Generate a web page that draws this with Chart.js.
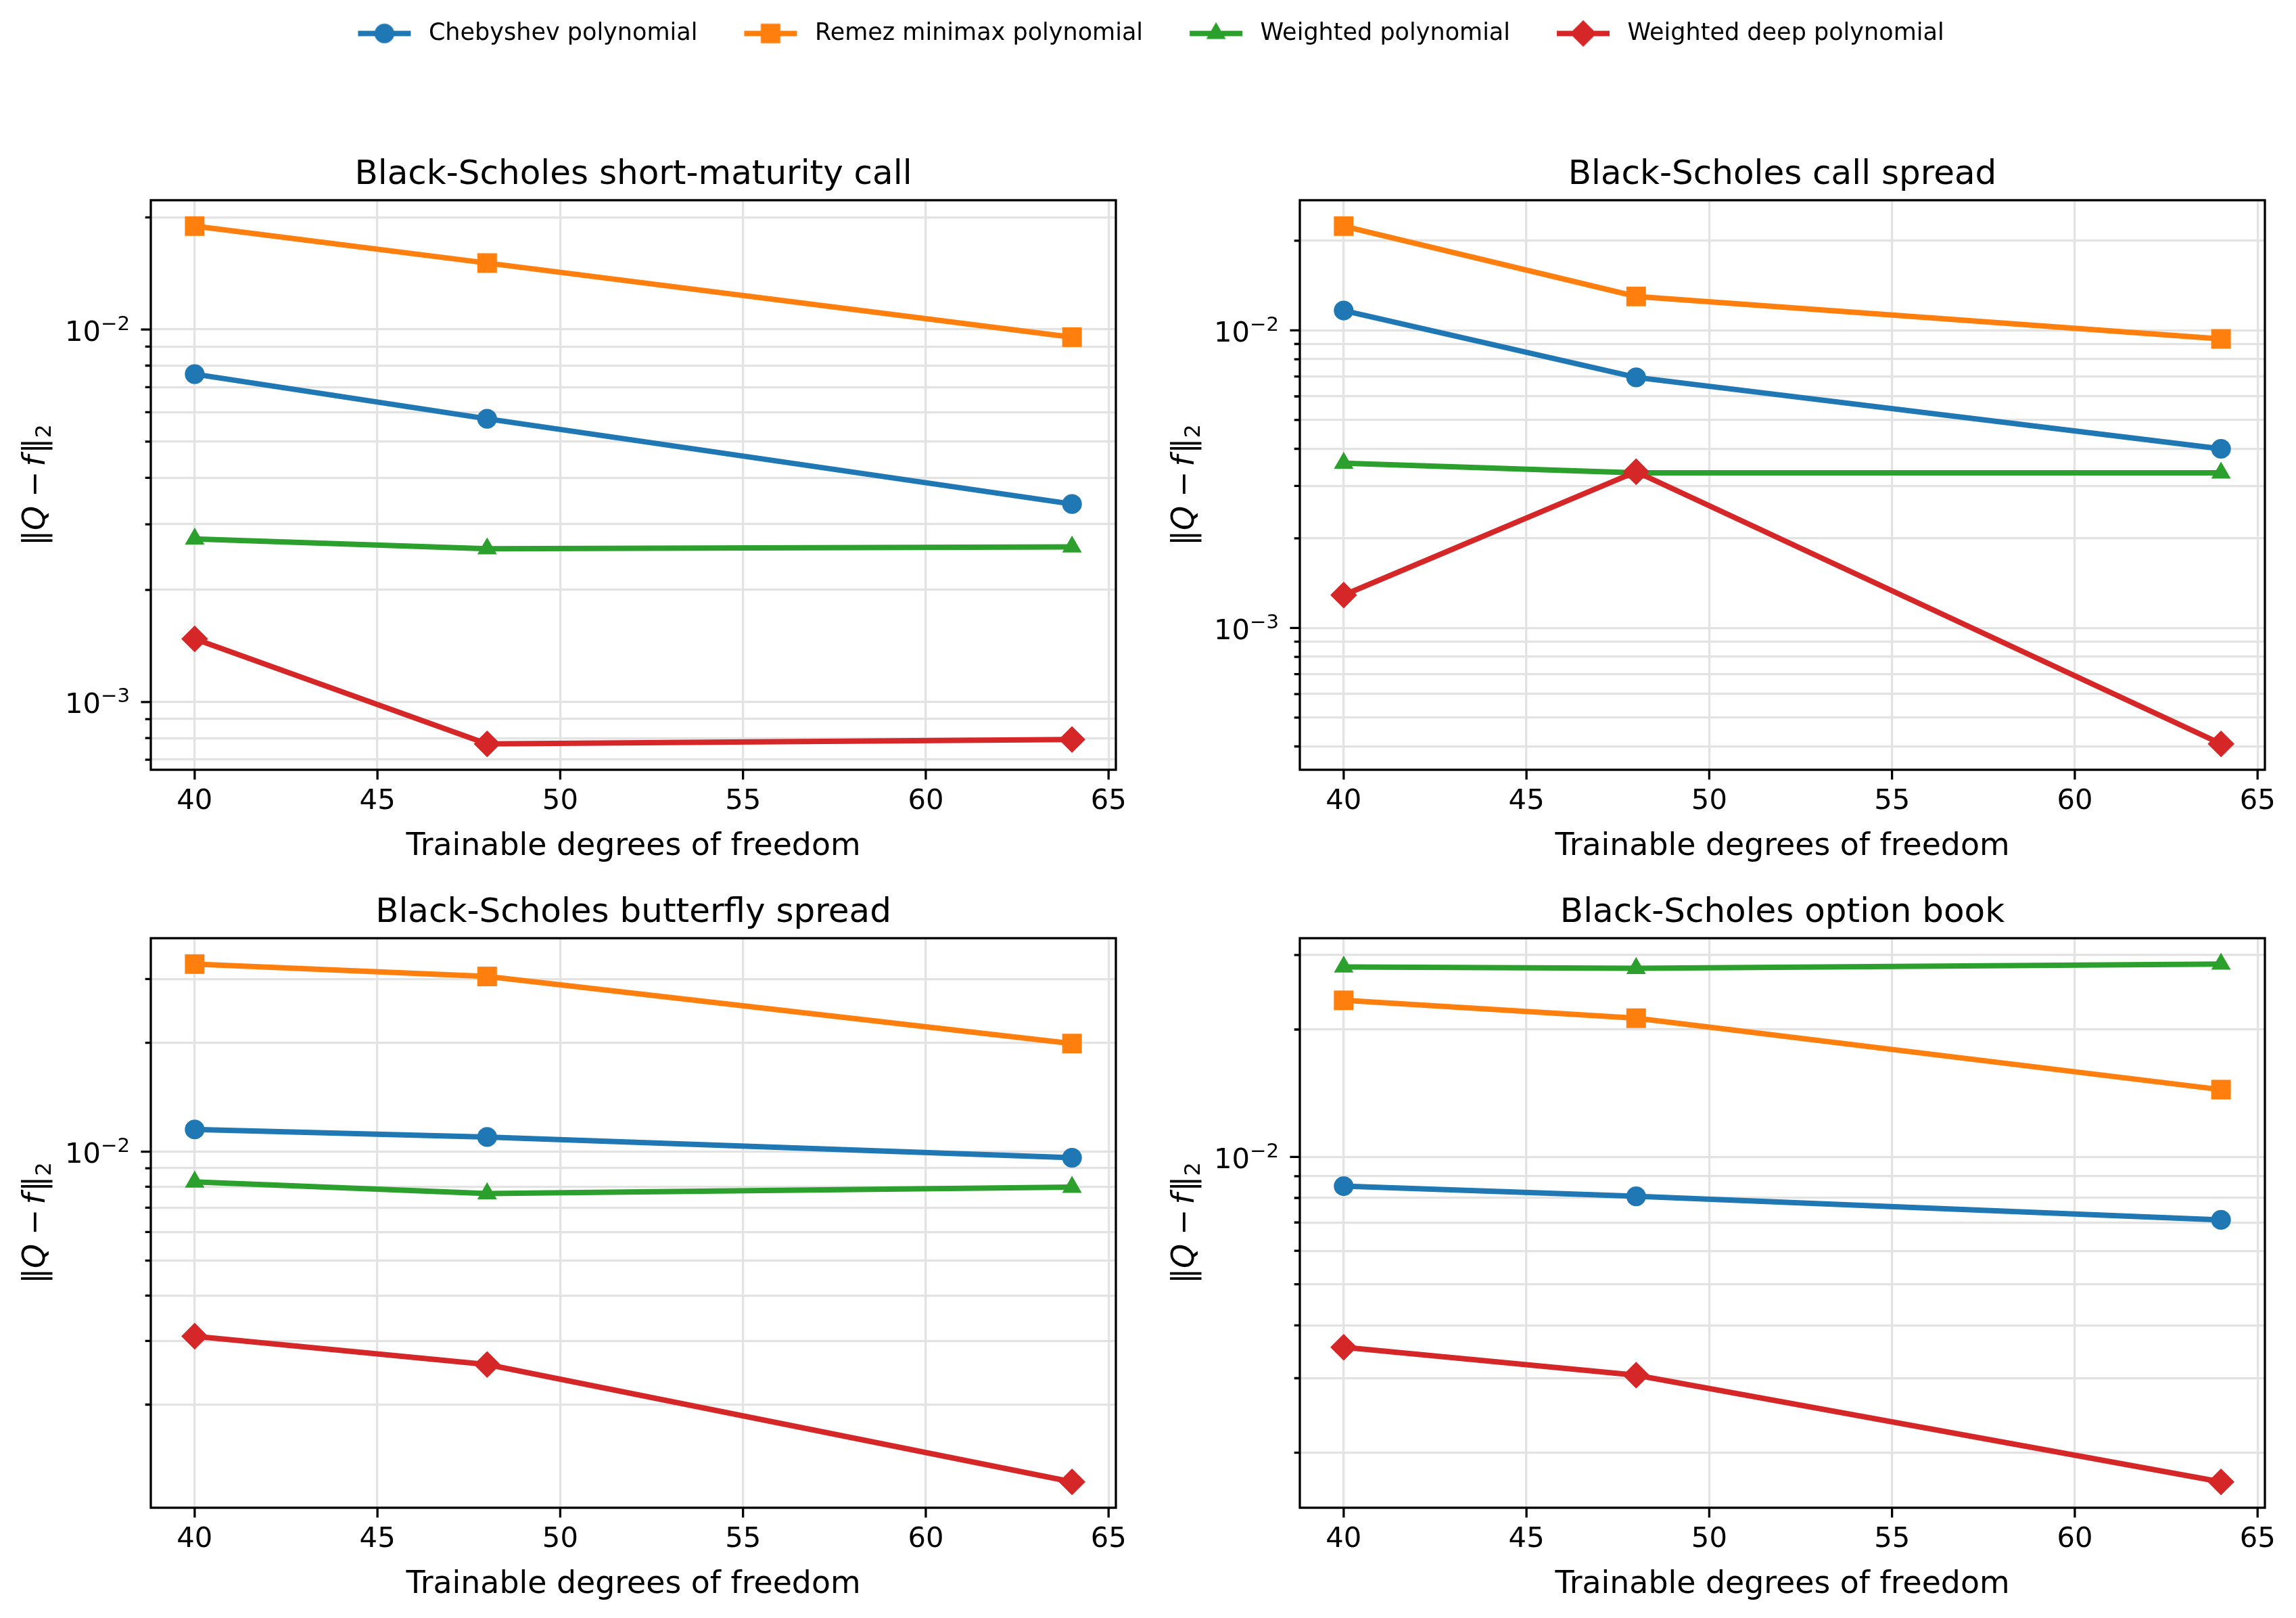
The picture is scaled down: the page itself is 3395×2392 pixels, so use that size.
<!DOCTYPE html>
<html>
<head>
<meta charset="utf-8">
<script src="https://cdn.jsdelivr.net/npm/chart.js@4.4.1/dist/chart.umd.min.js"></script>
<style>
  body { margin: 0; background: #fff; width: 3395px; height: 2392px; position: relative; overflow: hidden; }
  canvas { position: absolute; }
</style>
</head>
<body>
<canvas id="legend" width="3395" height="200" style="left:0;top:-28px"></canvas>
<canvas id="p1" width="1695" height="1202" style="left:0;top:96px"></canvas>
<canvas id="p2" width="1695" height="1202" style="left:1699px;top:96px"></canvas>
<canvas id="p3" width="1695" height="1202" style="left:0;top:1187px"></canvas>
<canvas id="p4" width="1695" height="1202" style="left:1699px;top:1187px"></canvas>
<script>
// data
const dof = [40, 48, 64];
const xTicks = [40, 45, 50, 55, 60, 65];
const seriesNames = ['Chebyshev polynomial', 'Remez minimax polynomial', 'Weighted polynomial', 'Weighted deep polynomial'];
const panelTitles = ['Black-Scholes short-maturity call', 'Black-Scholes call spread', 'Black-Scholes butterfly spread', 'Black-Scholes option book'];

const cheb1 = [0.00759, 0.00576, 0.00340];
const remez1 = [0.01895, 0.01508, 0.00954];
const wpoly1 = [0.00274, 0.00258, 0.00261];
const wdeep1 = [0.001477, 0.000772, 0.000793];

const cheb2 = [0.01166, 0.00695, 0.00400];
const remez2 = [0.0224, 0.0130, 0.00936];
const wpoly2 = [0.00358, 0.00332, 0.00332];
const wdeep2 = [0.00129, 0.00335, 0.000408];

const cheb3 = [0.01152, 0.01098, 0.00962];
const remez3 = [0.0330, 0.0305, 0.0199];
const wpoly3 = [0.00825, 0.00766, 0.00798];
const wdeep3 = [0.00309, 0.00258, 0.001223];

const cheb4 = [0.00853, 0.00807, 0.00710];
const remez4 = [0.02344, 0.02127, 0.01442];
const wpoly4 = [0.02811, 0.02790, 0.02855];
const wdeep4 = [0.00355, 0.00305, 0.001707];

const colors = ['#1f77b4', '#ff7f0e', '#2ca02c', '#d62728'];
const markers = ['circle', 'rect', 'triangle', 'rectRot'];
const markerRadius = [14.6, 20.5, 16.7, 19.8];
const FONT = '"DejaVu Sans"';

Chart.defaults.font.family = FONT;
Chart.defaults.color = '#000';

function isDecade(v) {
  const l = Math.log10(v);
  return Math.abs(l - Math.round(l)) < 1e-9;
}

// matplotlib-like autoscale: 5% margin (log space for y)
function logRange(vals) {
  const lo = Math.log10(Math.min(...vals)), hi = Math.log10(Math.max(...vals));
  const m = (hi - lo) * 0.05;
  return [Math.pow(10, lo - m), Math.pow(10, hi + m)];
}
function linRange(vals) {
  const lo = Math.min(...vals), hi = Math.max(...vals);
  const m = (hi - lo) * 0.05;
  return [lo - m, hi + m];
}
function logTicks(min, max) {
  const out = [];
  for (let e = Math.floor(Math.log10(min)); e <= Math.ceil(Math.log10(max)); e++) {
    for (let k = 1; k <= 9; k++) {
      const v = Number((k * Math.pow(10, e)).toPrecision(6));
      if (v >= min && v <= max) out.push(v);
    }
  }
  return out;
}

// ||Q - f||_2 with italic Q and f, rotated
function drawYLabel(ctx, x, y) {
  const size = 45.8;
  const normal = size + 'px ' + FONT, italic = 'italic ' + size + 'px ' + FONT;
  const parts = [
    {t: '\u2016', f: normal, gap: 0},
    {t: 'Q', f: italic, gap: 13},
    {t: '\u2212', f: normal, gap: 7},
    {t: 'f', f: italic, gap: 3},
    {t: '\u2016', f: normal, gap: 0},
    {t: '2', f: (size * 0.7) + 'px ' + FONT, gap: 0, dy: size * 0.2}
  ];
  let total = 0;
  parts.forEach(p => { ctx.font = p.f; p.w = ctx.measureText(p.t).width; total += p.w + p.gap; });
  ctx.save();
  ctx.translate(x, y);
  ctx.rotate(-Math.PI / 2);
  ctx.fillStyle = '#000';
  ctx.textBaseline = 'alphabetic';
  ctx.textAlign = 'left';
  let cx = -total / 2;
  parts.forEach(p => {
    ctx.font = p.f;
    ctx.fillText(p.t, cx, p.dy || 0);
    cx += p.w + p.gap;
  });
  ctx.restore();
}

// 10^n tick label, mathtext style
function drawPow10(ctx, right, py, exp) {
  const big = 41.7, small = big * 0.7;
  ctx.save();
  ctx.fillStyle = '#000';
  ctx.textAlign = 'right';
  ctx.textBaseline = 'alphabetic';
  ctx.font = small + 'px ' + FONT;
  const s = (exp < 0 ? '\u2212' : '') + Math.abs(exp);
  const sw = ctx.measureText(s).width;
  ctx.fillText(s, right, py + 0.6);
  ctx.font = big + 'px ' + FONT;
  ctx.fillText('10', right - sw, py + 16.6);
  ctx.restore();
}

const frame = {
  id: 'frame',
  afterDatasetsDraw(chart) {
    const {ctx, chartArea: a, scales} = chart;
    ctx.save();
    ctx.strokeStyle = '#000';
    ctx.lineWidth = 3.3;
    ctx.strokeRect(a.left, a.top, a.right - a.left, a.bottom - a.top);
    ctx.beginPath();
    scales.x.ticks.forEach(t => {
      const px = scales.x.getPixelForValue(t.value);
      ctx.moveTo(px, a.bottom);
      ctx.lineTo(px, a.bottom + 14.6);
    });
    scales.y.ticks.forEach(t => {
      const py = scales.y.getPixelForValue(t.value);
      ctx.moveTo(a.left, py);
      ctx.lineTo(a.left - (isDecade(t.value) ? 14.6 : 8.3), py);
    });
    ctx.stroke();
    ctx.restore();
    scales.y.ticks.forEach(t => {
      if (isDecade(t.value)) drawPow10(ctx, a.left - 31, scales.y.getPixelForValue(t.value), Math.round(Math.log10(t.value)));
    });
    drawYLabel(ctx, a.left - 157, (a.top + a.bottom) / 2);
  }
};

function makePanel(id, title, series) {
  const [ymin, ymax] = logRange(series.flat());
  const [xmin, xmax] = linRange(dof);
  const datasets = series.map((vals, i) => ({
    label: seriesNames[i],
    data: dof.map((x, j) => ({x: x, y: vals[j]})),
    borderColor: colors[i],
    backgroundColor: colors[i],
    pointBackgroundColor: colors[i],
    pointBorderWidth: 0,
    pointStyle: markers[i],
    pointRadius: markerRadius[i],
    borderWidth: 8,
    tension: 0,
    fill: false,
    order: 3 - i
  }));
  new Chart(document.getElementById(id), {
    type: 'line',
    data: {datasets},
    options: {
      responsive: false,
      animation: false,
      devicePixelRatio: 1,
      layout: {padding: {left: 0, right: 45, top: 0, bottom: 0}},
      plugins: {
        legend: {display: false},
        tooltip: {enabled: false},
        title: {display: true, fullSize: false, text: title, font: {size: 50, weight: 'normal'}, padding: {top: 133, bottom: 7}}
      },
      scales: {
        x: {
          type: 'linear', min: xmin, max: xmax, bounds: 'data',
          afterBuildTicks: s => { s.ticks = xTicks.map(v => ({value: v})); s.min = xmin; s.max = xmax; },
          afterFit: s => { s.height = 160; },
          grid: {color: '#e3e3e3', lineWidth: 3.3, drawTicks: false},
          border: {display: false},
          ticks: {font: {size: 41.7}, padding: 22, maxRotation: 0, autoSkip: false, callback: v => String(v)},
          title: {display: true, text: 'Trainable degrees of freedom', font: {size: 45.8}, padding: {top: 0, bottom: 18}}
        },
        y: {
          type: 'logarithmic', min: ymin, max: ymax, bounds: 'data',
          // keep matplotlib's limits; chart.js would snap min to a tick otherwise
          afterBuildTicks: s => { s.ticks = logTicks(ymin, ymax).map(v => ({value: v})); s.min = ymin; s.max = ymax; },
          afterFit: s => { s.width = 223; },
          grid: {color: '#e3e3e3', lineWidth: 3.3, drawTicks: false},
          border: {display: false},
          ticks: {font: {size: 41.7}, padding: 31, autoSkip: false, callback: () => ''}
        }
      }
    },
    plugins: [frame]
  });
}

makePanel('p1', panelTitles[0], [cheb1, remez1, wpoly1, wdeep1]);
makePanel('p2', panelTitles[1], [cheb2, remez2, wpoly2, wdeep2]);
makePanel('p3', panelTitles[2], [cheb3, remez3, wpoly3, wdeep3]);
makePanel('p4', panelTitles[3], [cheb4, remez4, wpoly4, wdeep4]);

// legend handles: line with marker, like matplotlib
function handleImage(i) {
  const c = document.createElement('canvas');
  c.width = 96; c.height = 44;
  const g = c.getContext('2d');
  g.strokeStyle = colors[i];
  g.lineWidth = 8;
  g.beginPath(); g.moveTo(9, 22); g.lineTo(87, 22); g.stroke();
  g.fillStyle = colors[i];
  if (Chart.helpers && Chart.helpers.drawPoint) {
    Chart.helpers.drawPoint(g, {pointStyle: markers[i], radius: markerRadius[i], rotation: 0, borderWidth: 0}, 48, 22);
  } else {
    g.beginPath(); g.arc(48, 22, 14, 0, Math.PI * 2); g.fill();
  }
  return c;
}
const handles = seriesNames.map((n, i) => handleImage(i));

new Chart(document.getElementById('legend'), {
  type: 'line',
  data: {datasets: seriesNames.map((n, i) => ({label: n, data: [], borderColor: colors[i]}))},
  options: {
    responsive: false,
    animation: false,
    devicePixelRatio: 1,
    scales: {x: {display: false}, y: {display: false}},
    plugins: {
      tooltip: {enabled: false},
      legend: {
        display: true, position: 'top', align: 'center',
        labels: {
          usePointStyle: true, pointStyleWidth: 96, padding: 60,
          font: {size: 35}, color: '#000',
          generateLabels: () => seriesNames.map((n, i) => ({
            text: n, pointStyle: handles[i], fillStyle: colors[i], strokeStyle: colors[i],
            lineWidth: 0, hidden: false, datasetIndex: i
          }))
        }
      }
    }
  }
});
</script>
</body>
</html>
